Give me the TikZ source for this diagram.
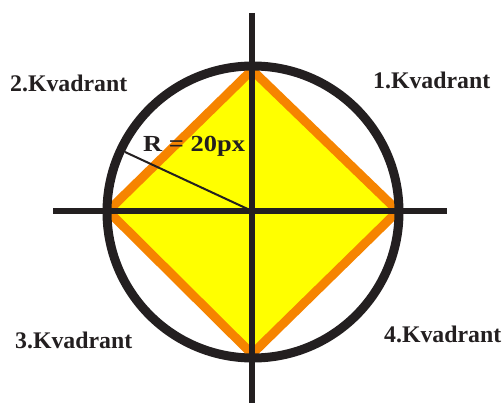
\documentclass[tikz,border=0pt]{standalone}
\usepackage{fontspec}
\setmainfont{Liberation Serif}
\definecolor{ink}{RGB}{35,31,32}
\definecolor{diayellow}{RGB}{255,255,0}
\definecolor{diaorange}{RGB}{246,132,0}
\begin{document}
\begin{tikzpicture}[x=1pt,y=-1pt,
  axis/.style={draw=ink,line width=5.5pt},
  ring/.style={draw=ink,line width=9pt},
  diamondedge/.style={draw=diaorange,fill=diayellow,line width=9pt,line join=miter},
  radius/.style={draw=ink,line width=2pt},
  lbl/.style={inner sep=0pt,anchor=base west,text=ink,font=\bfseries\fontsize{23.8}{28}\selectfont}]
\useasboundingbox (0,0) rectangle (502,403);
\coordinate (O) at (252,211);
\coordinate (T) at (252,70);
\coordinate (Rt) at (398,211);
\coordinate (B) at (252,354);
\coordinate (L) at (108,211);
\coordinate (P) at (125,152);
\coordinate (AxL) at (53,211);
\coordinate (AxR) at (447,211);
\coordinate (AxT) at (252,13);
\coordinate (AxB) at (252,403);
\path[diamondedge] (T) -- (Rt) -- (B) -- (L) -- cycle;
\draw[ring] (253,212) circle (146);
\draw[axis] (AxL) -- (AxR);
\draw[axis] (AxT) -- (AxB);
\draw[radius] (O) -- (P);
\node[lbl] (q2) at (10,92) {2.Kvadrant};
\node[lbl] (q1) at (373,89) {1.Kvadrant};
\node[lbl] (q3) at (15,348) {3.Kvadrant};
\node[lbl] (q4) at (384,342) {4.Kvadrant};
\node[lbl,font=\bfseries\fontsize{23}{28}\selectfont] (r) at (143,152) {\scalebox{1.15}[1]{R = 20px}};
\end{tikzpicture}
\end{document}
